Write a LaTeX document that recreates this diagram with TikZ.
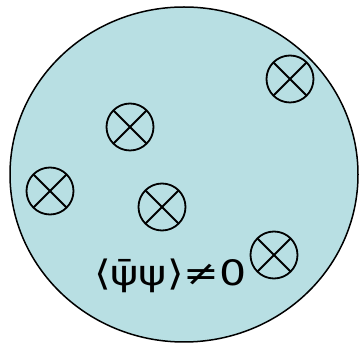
\documentclass[tikz,border=0pt]{standalone}
\usepackage{fontspec}
\newfontfamily\labelfont{DejaVu Sans}
\usetikzlibrary{shapes.geometric}
\definecolor{dropfill}{RGB}{184,223,227}
\tikzset{
  drop/.style={ellipse, draw=black, line width=1.5pt, fill=dropfill, inner sep=0pt},
  xcirc/.style={circle, draw=black, line width=1.8pt, minimum size=47pt, inner sep=0pt,
    path picture={
      \draw[line width=1.8pt] (path picture bounding box.north west) -- (path picture bounding box.south east);
      \draw[line width=1.8pt] (path picture bounding box.north east) -- (path picture bounding box.south west);
    }},
  lbl/.style={font=\labelfont\fontsize{35}{38}\selectfont, inner sep=0pt, anchor=base west}
}
\begin{document}
\begin{tikzpicture}[x=1pt,y=-1pt]
\useasboundingbox (0,0) rectangle (359,344);
\node[drop, minimum width=348pt, minimum height=335pt] (drop) at (184,174.5) {};
\node[xcirc] (c1) at (290,79) {};
\node[xcirc] (c2) at (130,127) {};
\node[xcirc] (c3) at (50,191) {};
\node[xcirc] (c4) at (162,207) {};
\node[xcirc] (c5) at (274,255) {};
\node[lbl] (cond) at (94,286) {\scalebox{1.22}[1]{⟨ψ̄ψ⟩≠0}};
\end{tikzpicture}
\end{document}
